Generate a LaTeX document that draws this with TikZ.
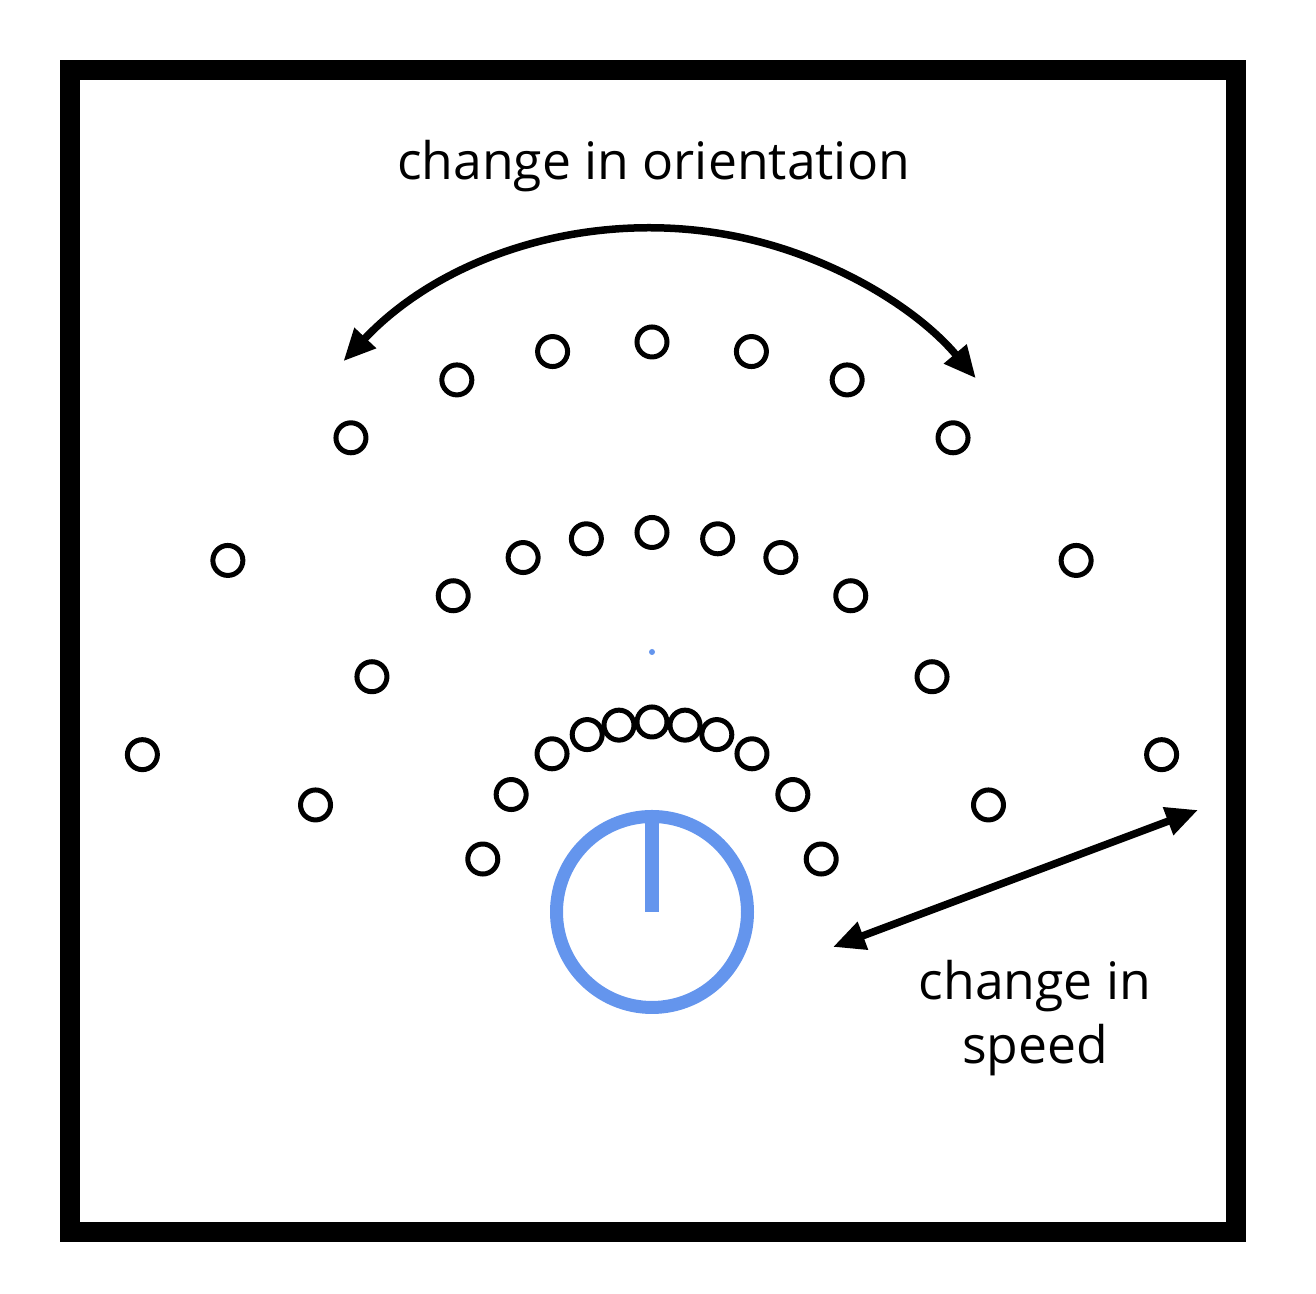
\documentclass[tikz,border=0pt]{standalone}
\usepackage{fontspec}
\setmainfont{Open Sans}
\definecolor{dialblue}{RGB}{100,149,237}
\usepackage{tikz}
\usetikzlibrary{arrows.meta,positioning,calc}

\tikzset{
    sample/.style={circle, draw=black, line width=0.05cm, minimum size=0.30cm, inner sep=0pt},
    label/.style={font=\fontsize{14.7}{18.2}\selectfont, inner sep=0pt},
    bigarrow/.style={line width=0.075cm, {Triangle[length=0.32cm,width=0.28cm]}-{Triangle[length=0.32cm,width=0.28cm]}}
}

\begin{document}
\begin{tikzpicture}
    \useasboundingbox (0,0) rectangle (13.16,12.94);
    \draw[line width=0.2cm] (0.70,0.62) rectangle (12.355,12.24);
    % robot with its heading
    \node[circle, draw=dialblue, line width=0.13cm, minimum size=1.91cm, outer sep=0pt] (dial) at (6.52,3.82) {};
    \draw[dialblue, line width=0.137cm] (dial.north) -- (dial.center);
    \node[circle, fill=dialblue, minimum size=0.06cm, inner sep=0pt] (origin) at (6.52,6.42) {};
    % sampled end points, one ring per speed
    \foreach \ring/\cy/\r in {inner/3.99/1.73, mid/4.175/3.44, outer/4.31/5.21} {
        \foreach \a [count=\i] in {-78,-54.5,-35.3,-22,-11,0,11,22,35.3,54.5,78} {
            \node[sample] (\ring\i) at ({6.52+\r*sin(\a)},{\cy+\r*cos(\a)}) {};
        }
    }
    % orientation
    \coordinate (turnL) at ($(origin)+(136.7:4.24)$);
    \draw[bigarrow] (turnL) arc[start angle=136.7, end angle=40.2, radius=4.24];
    \node[label, anchor=base] (orient) at (6.535,11.14) {change in orientation};
    % speed
    \coordinate (slow) at (8.33,3.47);
    \coordinate (fast) at (11.98,4.84);
    \draw[bigarrow] (slow) -- (fast);
    \node[label, align=center] (speed) at (10.35,2.76) {change in\\speed};
\end{tikzpicture}
\end{document}
